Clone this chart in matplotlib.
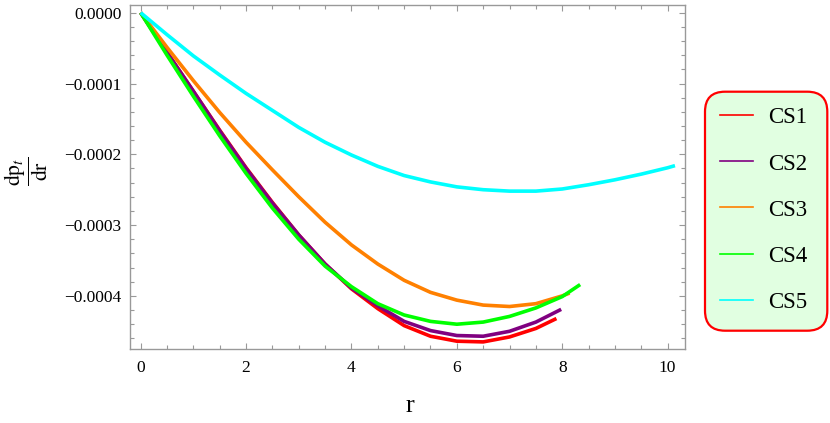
import matplotlib
matplotlib.use("Agg")
import matplotlib.pyplot as plt
from matplotlib.lines import Line2D
from matplotlib.patches import FancyBboxPatch
from matplotlib.ticker import MultipleLocator, FuncFormatter
import numpy as np

plt.rcParams["font.family"] = ["Liberation Serif", "DejaVu Serif"]
plt.rcParams["mathtext.fontset"] = "stix"

# values (dp_t/dr, in units of 1e-6)
r_cs1 = [0, 0.5, 1, 1.5, 2, 2.5, 3, 3.5, 4, 4.5, 5, 5.5, 6, 6.5, 7, 7.5, 7.89]
cs1 = [0, -56, -111, -166, -219, -268, -314, -355, -390, -418, -442, -457,
       -464, -465, -458, -446, -432]

r_cs2 = [0, 0.5, 1, 1.5, 2, 2.5, 3, 3.5, 4, 4.5, 5, 5.5, 6, 6.5, 7, 7.5, 7.98]
cs2 = [0, -56, -111, -167, -220, -269, -314, -355, -389, -414, -436, -449,
       -456, -457, -450, -437, -419]

r_cs3 = [0, 0.5, 1, 1.5, 2, 2.5, 3, 3.5, 4, 4.5, 5, 5.5, 6, 6.5, 7, 7.5, 8, 8.14]
cs3 = [0, -49, -96, -141, -183, -222, -260, -296, -328, -355, -378, -395,
       -406, -413, -415, -411, -400, -396]

r_cs4 = [0, 0.5, 1, 1.5, 2, 2.5, 3, 3.5, 4, 4.5, 5, 5.5, 6, 6.5, 7, 7.5, 8, 8.34]
cs4 = [0, -60, -118, -174, -227, -276, -320, -358, -387, -411, -427, -436,
       -440, -437, -429, -417, -401, -384]

r_cs5 = [0, 0.5, 1, 1.5, 2, 2.5, 3, 3.5, 4, 4.5, 5, 5.5, 6, 6.5, 7, 7.5, 8,
         8.5, 9, 9.5, 10, 10.14]
cs5 = [0, -31, -61, -88, -114, -138, -162, -183, -201, -217, -230, -239, -246,
       -250, -252, -252, -249, -243, -236, -228, -219, -216]

labels = ["CS1", "CS2", "CS3", "CS4", "CS5"]
colors = ["#ff0000", "#800080", "#ff8000", "#00ff00", "#00ffff"]
series = [(r_cs1, cs1), (r_cs2, cs2), (r_cs3, cs3), (r_cs4, cs4), (r_cs5, cs5)]

fig = plt.figure(figsize=(8.3, 4.23), dpi=100)
ax = fig.add_axes([130 / 830, 1 - 348.7 / 423, 555 / 830, 343.4 / 423])

for (rr, vv), c in zip(series, colors):
    ax.plot(rr, np.array(vv) * 1e-6, color=c, lw=2.6,
            solid_joinstyle="round", solid_capstyle="butt")

ax.set_xlim(-0.203, 10.33)
ax.set_ylim(-0.0004746, 0.0000105)

ax.xaxis.set_major_locator(MultipleLocator(2))
ax.xaxis.set_minor_locator(MultipleLocator(0.5))
ax.yaxis.set_major_locator(MultipleLocator(0.0001))
ax.yaxis.set_minor_locator(MultipleLocator(0.00002))


def fmt_y(v, pos):
    s = "%.4f" % v
    if s == "-0.0000":
        s = "0.0000"
    return s.replace("-", "\u2212")


ax.yaxis.set_major_formatter(FuncFormatter(fmt_y))
ax.xaxis.set_major_formatter(FuncFormatter(lambda v, p: "%d" % round(v)))

for sp in ax.spines.values():
    sp.set_color("#999999")
    sp.set_linewidth(1.0)
ax.tick_params(which="both", direction="in", top=True, right=True,
               color="#999999", width=0.8, labelsize=12.5, labelcolor="black")
ax.tick_params(which="major", length=4.5)
ax.tick_params(which="minor", length=2.6)
ax.tick_params(axis="x", pad=8)
ax.tick_params(axis="y", pad=6)

# axis labels
fig.text(410 / 830, 1 - 406 / 423, "r", fontsize=19, ha="center", va="center")
fig.text(26 / 830, 1 - 171 / 423, r"$\dfrac{\mathrm{dp}_{t}}{\mathrm{dr}}$",
         fontsize=15.5, rotation=90, ha="center", va="center")

# legend box
box = FancyBboxPatch((7.05, 0.923), 1.223, 2.39,
                     boxstyle="round,pad=0,rounding_size=0.2",
                     transform=fig.dpi_scale_trans, facecolor="#e1ffe1",
                     edgecolor="#ff0000", lw=1.6, clip_on=False)
fig.patches.append(box)

handles = [Line2D([], [], color=c, lw=1.2) for c in colors]
fig.legend(handles, labels, loc="center", bbox_to_anchor=(763.5 / 830, 1 - 210 / 423),
           frameon=False, fontsize=16.5, handlelength=1.47, handletextpad=0.64,
           labelspacing=1.09, borderpad=0)

fig.savefig("out.png", dpi=100)
